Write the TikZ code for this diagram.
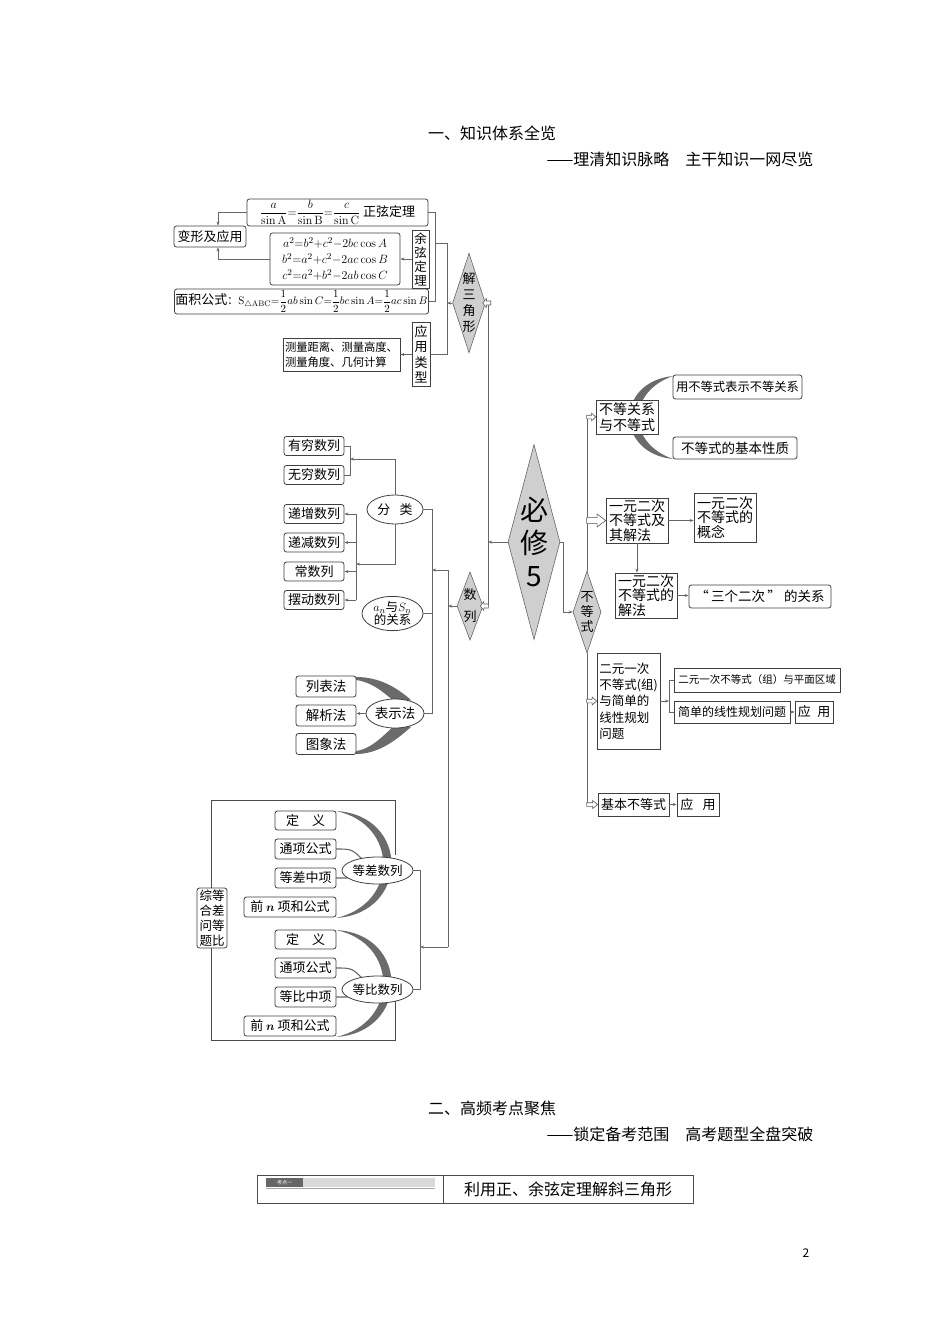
\documentclass[tikz,border=0pt]{standalone}
\usepackage{amsmath}
\usepackage[no-math]{fontspec}
\setmainfont{Noto Sans CJK SC}
\usetikzlibrary{arrows.meta, shapes.geometric, calc}

\newcommand{\fsz}[2]{\fontsize{#1}{#2}\selectfont}
% hollow block arrow: tip, angle, length, half width
\newcommand{\harrow}[4]{%
  \draw[hollow, shift={#1}, rotate=#2] (0,0) -- (-0.45*#3,#4) -- (-0.45*#3,0.45*#4)
    -- (-#3,0.45*#4) -- (-#3,-0.45*#4) -- (-0.45*#3,-0.45*#4) -- (-0.45*#3,-#4) -- cycle;}

\begin{document}
\begin{tikzpicture}[x=1pt, y=-1pt,
  conn/.style={draw=black!60, line width=0.6pt},
  arr/.style={conn, -{Stealth[length=4pt, width=3pt]}},
  hollow/.style={draw=black!65, fill=white, line width=0.6pt},
  rbox/.style={draw=black!75, line width=0.8pt, fill=white, rounded corners=2.5pt,
               inner sep=1pt, font=\fsz{13}{15}},
  sbox/.style={rbox, sharp corners},
  oval/.style={ellipse, draw=black!75, line width=0.8pt, fill=white, inner sep=0pt,
               font=\fsz{13}{14}},
  dia/.style={diamond, draw=black!60, line width=0.6pt, fill=black!19, inner sep=0pt,
              align=center},
  wedge/.style={fill=black!58},
  swoosh/.style={draw=black!60, line width=1.1pt},
  ttl/.style={font=\fsz{16}{18}},
  sz/.style 2 args={minimum width=#1pt, minimum height=#2pt}
]
  \useasboundingbox (0,0) rectangle (950,1344);
  \fill[white] (0,0) rectangle (950,1344);

  % titles
  \node[ttl] (t1) at (492,133) {一、知识体系全览};
  \node[ttl, anchor=east] (t2) at (817,159) {——理清知识脉略　主干知识一网尽览};

  % --- 解三角形
  \node[rbox, sz={181}{27}, font=\fsz{12.5}{14}] (sine) at (337.5,212.5)
    {$\dfrac{a}{\sin\mathrm{A}}{=}\dfrac{b}{\sin\mathrm{B}}{=}\dfrac{c}{\sin\mathrm{C}}$\ {\fsz{13}{15}正弦定理}};
  \node[rbox, sz={72}{21}] (bx) at (210,236.5) {变形及应用};
  \node[rbox, sz={130}{52}, font=\fsz{12.5}{16}, align=center] (cosine) at (335,259)
    {$a^2{=}b^2{+}c^2{-}2bc\cos A$\\$b^2{=}a^2{+}c^2{-}2ac\cos B$\\$c^2{=}a^2{+}b^2{-}2ab\cos C$};
  \node[sbox, sz={17}{58}, font=\fsz{12.5}{14}, align=center] (cosT) at (420.5,259) {余\\弦\\定\\理};
  \node[rbox, sz={253}{25}, font=\fsz{10.8}{13}] (area) at (301.5,301.5)
    {{\fsz{13}{15}面积公式}：$\mathrm{S}_{\triangle\mathrm{ABC}}{=}\dfrac{1}{2}ab\sin C{=}\dfrac{1}{2}bc\sin A{=}\dfrac{1}{2}ac\sin B$};
  \node[sbox, sz={117}{33}, font=\fsz{11.3}{15}, align=left] (meas) at (341.5,354.5)
    {测量距离、测量高度、\\测量角度、几何计算};
  \node[sbox, sz={18}{64}, font=\fsz{13}{15.5}, align=center] (appT) at (421,354.5) {应\\用\\类\\型};
  \node[dia, sz={32}{97}, aspect=0.33, font=\fsz{13}{16}] (jsj) at (469,303) {解\\三\\角\\形};

  % --- hub
  \node[dia, sz={52}{195}, aspect=0.267, font=\fsz{28}{33}] (bx5) at (534,542) {必\\修\\5};
  \node[dia, sz={26}{68}, aspect=0.38, font=\fsz{13}{22}] (sl) at (470,606) {数\\列};
  \node[dia, sz={28}{82}, aspect=0.34, font=\fsz{13}{15}] (bds) at (587,612) {不\\等\\式};

  % --- 不等式
  \fill[wedge] (673,376) .. controls (615,382) and (615,453) .. (673,459)
    .. controls (627,443) and (627,392) .. (673,376) -- cycle;
  \node[sbox, sz={62}{34}, align=left, font=\fsz{14}{16}] (bdgx) at (627,417) {不等关系\\与不等式};
  \node[rbox, sz={129}{24}, font=\fsz{12.3}{14}] (ybs) at (737.5,387) {用不等式表示不等关系};
  \node[rbox, sz={124}{22}, font=\fsz{13.5}{15}] (xz) at (735,448) {不等式的基本性质};
  \node[sbox, sz={62}{45}, align=left, font=\fsz{14}{14.5}] (yyec) at (637,520.5) {一元二次\\不等式及\\其解法};
  \node[sbox, sz={62}{49}, align=left, font=\fsz{14}{14.5}] (gn) at (725,517.5) {一元二次\\不等式的\\概念};
  \node[sbox, sz={62}{45}, align=left, font=\fsz{14}{14.5}] (jf) at (646,595.5) {一元二次\\不等式的\\解法};
  \node[rbox, sz={142}{23}, font=\fsz{13.5}{15}] (sgec) at (760,596.5) {“\,三个二次\,”\ 的关系};
  \node[sbox, sz={63}{96}, align=left, font=\fsz{12.5}{16.3}] (eyyc) at (628.5,701)
    {二元一次\\不等式(组)\\与简单的\\线性规划\\问题};
  \node[sbox, sz={166}{24}, font=\fsz{10.5}{12}] (pmqy) at (757,680) {二元一次不等式（组）与平面区域};
  \node[sbox, sz={116}{22}, font=\fsz{12}{14}] (xxgh) at (732,712) {简单的线性规划问题};
  \node[sbox, sz={38}{22}] (yy1) at (814,712) {应\hspace{0.5em}用};
  \node[sbox, sz={71}{23}] (jbbd) at (633.5,804.5) {基本不等式};
  \node[sbox, sz={42}{23}] (yy2) at (698,804.5) {应\hspace{0.7em}用};

  % --- 数列
  \foreach \nm/\yy/\txt in {yq/446/有穷数列, wq/475/无穷数列, dz/514/递增数列,
                            dj/542.5/递减数列, cs/571.5/常数列, bd/600/摆动数列}
    \node[rbox, sz={60}{19}] (\nm) at (314,\yy) {\txt};
  \node[oval, sz={56}{29}] (fl) at (395,509.5) {分\hspace{0.7em}类};
  \node[oval, sz={61}{33}, font=\fsz{12.5}{13}, align=center] (an) at (392.5,613.5) {$a_n$与$S_n$\\的关系};

  % 表示法
  \fill[wedge] (356,677) .. controls (378,677) and (395,686) .. (411,700)
    -- (398,705) .. controls (385,693) and (372,682) .. (356,680) -- cycle;
  \fill[wedge] (356,754) .. controls (378,754) and (395,741) .. (411,727)
    -- (398,722) .. controls (385,734) and (372,749) .. (356,751) -- cycle;
  \foreach \nm/\yy/\txt in {lb/686.5/列表法, jx/715.5/解析法, tx/744/图象法}
    \node[rbox, sz={60}{21}, font=\fsz{13.5}{15}] (\nm) at (326,\yy) {\txt};
  \node[oval, sz={58}{29}, font=\fsz{13.5}{15}] (bs) at (395,713.5) {表示法};

  % 等差 / 等比
  \draw[black!70, line width=0.8pt] (395,855) -- (395,800) -- (211,800) -- (211,1040)
    -- (395,1040) -- (395,1000);
  \foreach \k/\yo/\kind in {c/0/差, b/119/比} {
    \fill[wedge] (336,{811+\yo}) .. controls (410,{815+\yo}) and (410,{913+\yo}) .. (336,{918+\yo})
      .. controls (399,{904+\yo}) and (399,{824+\yo}) .. (336,{811+\yo}) -- cycle;
    \draw[swoosh] (336,{849+\yo}) .. controls (352,{849+\yo}) .. (364,{861+\yo});
    \draw[swoosh] (336,{878+\yo}) .. controls (352,{878+\yo}) .. (364,{876+\yo});
    \node[rbox, sz={61}{19}] (dy\k) at (305.5,{820.5+\yo}) {定\hspace{1em}义};
    \node[rbox, sz={61}{20}] (tx\k) at (305.5,{849+\yo}) {通项公式};
    \node[rbox, sz={61}{20}] (zx\k) at (305.5,{878+\yo}) {等\kind 中项};
    \node[rbox, sz={92}{20}] (qn\k) at (290,{907+\yo}) {前 $\boldsymbol{n}$ 项和公式};
    \node[oval, sz={71}{27}, font=\fsz{12.5}{14}] (d\k) at (377.5,{870.5+\yo}) {等\kind 数列};
  }
  \node[rbox, sz={30}{60}, font=\fsz{12.5}{15}, align=center] (zh) at (212,918) {综等\\合差\\问等\\题比};

  % --- connectors: 解三角形
  \coordinate (jk) at (435,212);
  \coordinate (jv) at (447,243);
  \coordinate (bxk) at (218,236);
  \draw[conn] (sine.east) -- (sine.east -| jk) -- (area.east -| jk) -- (area.east);
  \draw[conn] (jv -| jk) -- (jv) -- (jv |- appT.east) -- (appT.east);
  \draw[arr] (jsj.west) -- (jsj.west -| jv);
  \draw[arr] (cosT) -- (cosine);
  \draw[arr] (appT) -- (meas);
  \draw[arr] (sine.west) -- (sine.west -| bxk) -- (bx.north -| bxk);
  \draw[arr] (cosine.west) -- (cosine.west -| bxk) -- (bx.south -| bxk);

  % spine
  \coordinate (sp) at (488,0);
  \draw[conn] (jsj.east -| sp) -- (sl.east -| sp);
  \draw[arr] (bx5.west) -- (bx5.west -| sp);
  \harrow{($(jsj.east)+(-3,0)$)}{180}{8}{4.5}
  \harrow{($(sl.east)+(-3,0)$)}{180}{8}{4.5}

  % hub to 不等式
  \coordinate (hb) at (563,0);
  \draw[arr] (bx5.east) -- (bx5.east -| hb) -- (bds.west -| hb) -- (bds.west);

  % 不等式 branch
  \coordinate (rs) at (587,0);
  \draw[conn] (bdgx.west -| rs) -- (bds.north);
  \draw[conn] (bds.south) -- (jbbd.west -| rs);
  \harrow{(bdgx.west)}{0}{9}{4}
  \harrow{(yyec.west)}{0}{19}{6.5}
  \harrow{(eyyc.west)}{0}{10}{4}
  \harrow{(jbbd.west)}{0}{11}{4}
  \draw[arr] (yyec.east) -- (yyec.east -| gn.west);
  \draw[arr] (yyec.south) -- (yyec.south |- jf.north);
  \draw[arr] (jf.east) -- (jf.east -| sgec.west);
  \coordinate (ek) at (669,0);
  \draw[arr] (eyyc.east) -- (eyyc.east -| ek);
  \draw[conn] (pmqy.west) -- (pmqy.west -| ek) -- (xxgh.west -| ek) -- (xxgh.west);
  \draw[arr] (xxgh) -- (yy1);
  \draw[arr] (jbbd) -- (yy2);

  % 数列 branch
  \coordinate (cb) at (350,0);
  \coordinate (fa) at (395,459);
  \draw[conn] (yq.east) -- (yq.east -| cb) -- (wq.east -| cb) -- (wq.east);
  \draw[arr] (fl.north) -- (fa) -- (fa -| cb);
  \coordinate (cb2) at (356,0);
  \coordinate (fb) at (395,564);
  \draw[conn] (dz.east -| cb2) -- (bd.east -| cb2);
  \foreach \nm in {dz,dj,cs,bd}
    \draw[arr] (\nm.east -| cb2) -- (\nm.east);
  \draw[arr] (fl.south) -- (fb) -- (fb -| cb2);
  \coordinate (sj) at (432,0);
  \draw[conn] (fl.east) -- (fl.east -| sj) -- (bs.east -| sj) -- (bs.east);
  \draw[conn] (an.east) -- (an.east -| sj);
  \draw[arr] (bs.west) -- (bs.west -| jx.east);
  \coordinate (sk) at (448,570);
  \coordinate (sm) at (448,947);
  \draw[arr] (sk) -- (sk -| sj);
  \draw[conn] (sk) -- (sm);
  \draw[arr] (sl.west) -- (sl.west -| sk);
  \coordinate (dbk) at (420,0);
  \draw[arr] (sm) -- (sm -| dbk);
  \draw[conn] (dc.east) -- (dc.east -| dbk) -- (db.east -| dbk) -- (db.east);

  % lower titles and table
  \node[ttl] (t3) at (492,1108) {二、高频考点聚焦};
  \node[ttl, anchor=east] (t4) at (817,1134) {——锁定备考范围　高考题型全盘突破};
  \node[draw=black!70, line width=0.8pt, sz={186}{28}] (kd) at (350,1189) {};
  \node[draw=black!70, line width=0.8pt, sz={250}{28}, font=\fsz{16}{18}] (kt) at (568,1189) {利用正、余弦定理解斜三角形};
  \fill[black!15] (266,1178) rectangle (435,1187);
  \draw[black!35, line width=0.5pt] (266,1188.5) -- (435,1188.5);
  \node[fill=black!60, text=white, font=\fsz{5}{6}, inner sep=0pt, sz={37}{9}] (kdl) at (284.5,1182.5) {考点一};
  \node[font=\fsz{12}{14}] (pg) at (806,1253) {2};
\end{tikzpicture}
\end{document}
